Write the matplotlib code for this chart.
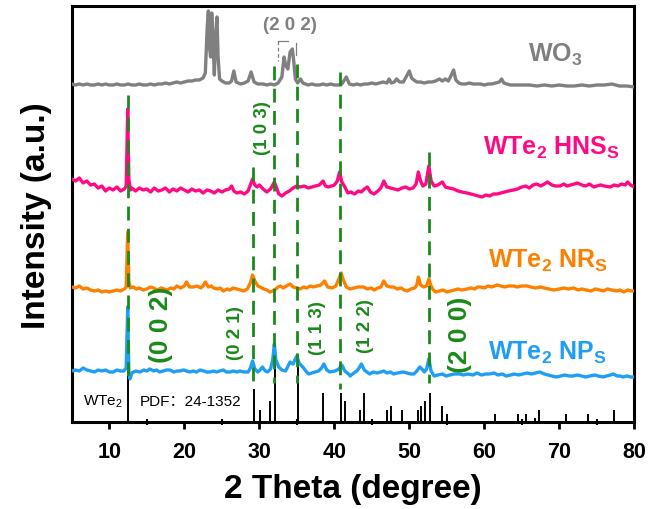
import matplotlib
matplotlib.use("Agg")
import matplotlib.pyplot as plt
import numpy as np

plt.rcParams['font.family'] = ['Liberation Sans', 'DejaVu Sans']
plt.rcParams['mathtext.fontset'] = 'custom'
plt.rcParams['mathtext.rm'] = 'Liberation Sans'
plt.rcParams['mathtext.bf'] = 'Liberation Sans:bold'
plt.rcParams['mathtext.it'] = 'Liberation Sans:italic'

# ---------------- data ----------------
wo3_x = [5.0, 5.5, 6.0, 6.5, 7.0, 7.5, 8.0, 8.5, 9.0, 9.5, 10.0, 10.5, 11.0, 11.5, 12.0, 12.5, 13.0, 13.5,
         14.0, 14.5, 15.0, 15.5, 16.0, 16.5, 17.0, 17.5, 18.0, 18.5, 19.0, 19.5, 20.0, 20.5, 21.0, 21.5, 22.0, 22.5,
         22.8, 23.05, 23.2, 23.35, 23.5, 23.65, 23.8, 24.0, 24.2, 24.35, 24.5, 24.7,
         25.0, 25.5, 26.0, 26.3, 26.6, 26.9, 27.5, 28.0, 28.5, 28.9, 29.3, 29.8, 30.5, 31.0, 31.5, 32.0, 32.5, 33.0,
         33.3, 33.5, 33.8, 34.1, 34.4, 34.6, 34.8, 35.1, 35.5, 35.8,
         36.5, 37.0, 37.5, 38.0, 38.5, 39.0, 39.5, 40.0, 40.5, 41.0, 41.6, 42.0, 42.5, 43.0, 43.5, 44.0, 44.5, 45.0,
         45.5, 46.0, 46.5, 47.0,
         47.3, 47.6, 48.0, 48.3, 48.7, 49.2, 49.7, 50.0, 50.3, 50.6, 51.0, 51.5, 52.0, 52.5, 53.0, 53.5, 54.0, 54.4,
         54.8, 55.2, 55.6, 55.9, 56.2, 56.6,
         57.0, 57.5, 58.0, 58.5, 59.0, 59.5, 60.0, 60.5, 61.0, 61.5, 62.0, 62.3, 62.6, 63.0, 63.5, 64.0,
         65.0, 66.0, 67.0, 68.0, 69.0, 70.0, 71.0, 72.0, 73.0, 74.0, 75.0, 76.0, 77.0, 78.0, 79.0, 80.0]
wo3_y = [3, 2, 3, 2, 3, 2, 2, 3, 2, 3, 2, 2, 3, 2, 2, 3, 2, 2,
         3, 2, 2, 3, 2, 3, 3, 4, 3, 4, 5, 4, 5, 6, 6, 7, 7, 9,
         14, 60, 76, 40, 30, 74, 50, 12, 55, 70, 30, 8,
         6, 4, 4, 6, 16, 5, 3, 4, 6, 15, 5, 3, 3, 2, 3, 2, 4, 10,
         30, 22, 18, 35, 38, 25, 8, 4, 8, 4,
         2, 3, 2, 2, 3, 2, 3, 2, 2, 3, 10, 3, 2, 3, 2, 3, 3, 4,
         3, 4, 5, 4,
         8, 4, 5, 8, 5, 5, 12, 16, 9, 7, 5, 5, 4, 5, 5, 6, 8, 6,
         8, 6, 12, 17, 7, 4,
         3, 3, 4, 3, 3, 3, 2, 3, 3, 4, 5, 8, 4, 3, 2, 2,
         2, 2, 1, 2, 1, 2, 1, 1, 2, 1, 2, 2, 3, 1, 1, 0]

hns_x = [5.0, 5.5, 6.0, 6.5, 7.0, 7.5, 8.0, 8.5, 9.0, 9.5, 10.0, 10.5, 11.0, 11.5, 12.0,
         12.25, 12.45, 12.6, 12.8,
         13.0, 13.5, 14.0, 14.5, 15.0, 15.5, 16.0, 16.5, 17.0, 17.5, 18.0, 18.5, 19.0, 19.5, 20.0, 20.5, 21.0,
         21.5, 22.0, 22.5, 23.0, 23.5, 24.0, 24.5, 25.0, 25.5, 26.0,
         26.3, 26.6, 27.0, 27.5, 28.0, 28.5, 28.8, 29.1, 29.4, 29.7, 30.0, 30.5, 31.0, 31.5, 32.0, 32.3, 32.6,
         33.0, 33.5, 34.0, 34.5, 35.0, 35.5, 36.0, 36.5, 37.0, 37.5, 38.0, 38.5,
         38.8, 39.2, 39.6, 40.0, 40.4, 40.7, 41.0, 41.4, 41.8, 42.2, 42.7, 43.2, 43.6, 44.0, 44.4, 44.8, 45.3,
         45.8, 46.2, 46.6, 47.0,
         47.5, 48.0, 48.5, 49.0, 49.5, 50.0, 50.5,
         50.9, 51.2, 51.5, 51.8, 52.2, 52.6, 52.9, 53.3, 53.8, 54.4, 54.8, 55.3, 55.9, 56.5, 57.0, 57.7, 58.2,
         58.7, 59.2, 59.7, 60.2, 60.7, 61.2, 61.7, 62.2, 62.7, 63.2, 63.9, 64.4, 65.0,
         65.5, 66.0, 66.5, 67.0, 67.5, 68.0, 68.4, 69.0, 69.5, 70.1, 70.6, 71.0, 71.5, 72.0, 72.4, 73.0, 73.5,
         74.0, 74.6, 75.0, 75.5, 76.0, 76.8, 77.3, 77.8, 78.3, 78.8, 79.1, 79.5, 80.0]
hns_y = [10, 8, 11, 6, 8, 4, 5, 1, 3, -2, 1, -1, 2, -2, 0,
         3, 80, 10, -1,
         1, -2, 1, -1, 0, -3, 1, -2, -1, 1, -3, 0, -2, 1, -1, -3, 0,
         -2, -1, -4, -1, -2, -4, -1, -3, -1, 0,
         3, -2, -4, -3, -5, -2, 4, 10, 4, 2, 4, 0, -3, 0, 7, 1, -5,
         -7, -4, -2, 1, 3, 2, 3, 1, 2, 3, 4, 8,
         3, 2, 3, 4, 8, 17, 7, 2, -4, -3, -5, -2, -3, 0, 2, -3, -5,
         -2, 1, 8, 2,
         1, 0, -1, 1, 2, 0, 1,
         5, 17, 8, 3, 5, 23, 8, 3, 4, 7, 2, 1, 0, -2, -3, -4, -5,
         -6, -7, -8, -6, -7, -5, -5, -4, -3, -2, -1, 0, 2,
         3, 1, 4, 5, 3, 5, 7, 4, 3, 3, 5, 3, 4, 5, 6, 4, 3,
         5, 2, 3, 4, 3, 2, 4, 3, 5, 4, 7, 4, 2]

nr_x = [5.0, 5.5, 6.0, 6.5, 7.0, 7.5, 8.0, 8.5, 9.0, 9.5, 10.0, 10.5, 11.0, 11.5, 12.0,
        12.25, 12.45, 12.6, 12.8,
        13.2, 13.6, 14.0, 14.5, 15.0, 15.5, 15.9, 16.4, 16.9, 17.3, 17.7, 18.2, 18.6, 19.0, 19.5, 20.0, 20.3,
        20.7, 21.2, 21.7,
        22.2, 22.5, 22.8, 23.2, 23.6, 23.9, 24.4, 24.8, 25.2, 25.7,
        26.1, 26.5, 27.0, 27.5, 27.9, 28.4, 28.8, 29.1, 29.4, 29.8,
        30.1, 30.6, 31.0, 31.4, 31.8, 32.2, 32.5, 32.8, 33.2, 33.6,
        34.1, 34.5, 35.0, 35.4, 35.9, 36.3, 36.8, 37.2, 37.7, 38.2,
        38.7, 39.1, 39.7, 40.2, 40.6, 40.9, 41.2, 41.6, 42.1, 42.6,
        43.2, 43.9, 44.4, 44.9, 45.3, 45.8, 46.2, 46.6, 47.0, 47.5,
        47.9, 48.4, 48.9, 49.3, 49.7, 50.2, 50.7, 51.0, 51.2, 51.5,
        51.9, 52.3, 52.6, 52.9, 53.2, 53.5, 54.0, 54.5, 55.0, 55.5,
        56.0, 56.5, 57.0, 57.7, 58.2, 58.7, 59.1, 59.5, 60.0, 60.5,
        61.0, 61.7, 62.2, 62.7, 63.3, 63.9, 64.4, 65.0, 65.7, 66.2,
        66.8, 67.5, 68.0, 68.6, 69.3, 70.0, 70.6, 71.2, 71.9, 72.5,
        73.0, 73.6, 74.2, 74.8, 75.4, 75.9, 76.4, 77.0, 77.6, 78.1,
        78.6, 79.1, 79.6, 80.0]
nr_y = [2, 1, 3, 0, 1, -1, -2, -1, -3, -2, -3, -2, -1, -2, 0,
        2, 57, 8, 1,
        2, 0, 1, -1, 0, 2, 1, -1, 1, 0, -1, 1, 0, 3, 1, 3, 7,
        2, 2, 3,
        1, 3, 7, 2, 3, 1, 0, 1, -2, 0,
        -1, 1, 0, -1, -2, 0, 6, 14, 8, 3,
        2, 0, -1, -3, -2, 0, 2, 3, 1, 3,
        5, 2, 1, 0, 2, 1, 3, 2, 3, 4,
        8, 2, 1, 3, 10, 16, 9, 2, 0, 1,
        2, 2, 0, 1, -1, 1, 2, 8, 3, 2,
        2, 0, 1, -1, -2, 0, 1, 4, 12, 4,
        2, 3, 10, 3, -1, -3, -2, -1, -3, -2,
        -1, 0, -1, 0, 1, 0, 2, 2, 1, 3,
        2, 4, 3, 2, 3, 3, 2, 3, 3, 2,
        1, 2, 1, 0, -1, 0, 1, 0, 1, -1,
        0, -1, -2, 0, -1, -2, 0, -1, -2, -1,
        -3, -1, -2, -2]

np_x = [5.0, 5.5, 6.0, 6.5, 7.0, 7.5, 8.0, 8.5, 9.0, 9.5,
        10.0, 10.5, 11.0, 11.5, 11.9, 12.25, 12.45, 12.6, 12.75, 13.0,
        13.5, 14.1, 14.6, 15.0, 15.4, 15.9, 16.3, 16.7, 17.2, 17.6,
        18.1, 18.6, 19.0, 19.4, 19.9, 20.3, 20.7, 21.2, 21.6, 22.1,
        22.6, 23.0, 23.4, 23.9, 24.3, 24.7, 25.2, 25.6, 26.1, 26.5,
        27.0, 27.4, 27.9, 28.5, 28.8, 29.1, 29.4, 29.8, 30.1, 30.4,
        30.8, 31.1, 31.5, 31.8, 32.0, 32.2, 32.6, 33.0, 33.5, 34.1,
        34.5, 34.8, 35.0, 35.3, 35.9, 36.3, 36.6, 37.0, 37.4, 37.9,
        38.3, 38.6, 39.0, 39.4, 40.1, 40.6, 41.0, 41.4, 41.9, 42.1,
        42.6, 43.0, 43.3, 43.6, 44.0, 44.7, 45.2, 45.7, 46.2, 46.6,
        47.0, 47.5, 47.9, 48.4, 49.2, 49.7, 50.2, 50.6, 51.0, 51.4,
        51.8, 52.0, 52.3, 52.6, 52.9, 53.3, 53.8, 54.4, 54.9, 55.4,
        56.0, 56.7, 57.2, 57.8, 58.5, 59.0, 59.6, 60.2, 60.7, 61.3,
        61.8, 62.4, 62.9, 63.5, 64.0, 64.6, 65.1, 65.7, 66.3, 66.8,
        67.4, 68.0, 68.5, 69.0, 69.6, 70.2, 70.7, 71.3, 71.8, 72.4,
        73.0, 73.5, 74.1, 74.7, 75.2, 75.8, 76.3, 76.8, 77.2, 77.7,
        78.1, 78.5, 79.0, 79.5, 80.0]
np_y = [3, 4, 3, 6, 4, 3, 2, 4, 3, 4,
        2, 2, 4, 3, 3, 6, 67, 2, -5, 1,
        3, 2, 4, 3, 5, 3, 4, 2, 3, 4,
        4, 2, 3, 3, 4, 3, 2, 3, 2, 4,
        3, 2, 2, 3, 2, 3, 4, 2, 2, 3,
        2, 3, 2, 2, 6, 13, 5, 2, 4, 7,
        3, 2, 5, 15, 30, 14, 7, 4, 3, 12,
        10, 15, 18, 11, 6, 2, 0, 1, 2, 3,
        6, 10, 4, 2, 3, 5, 9, 3, 0, -2,
        1, 3, 6, 10, 4, 0, 2, 1, 2, 3,
        1, 2, 0, 1, 2, 1, 0, 0, 3, 7,
        4, 2, 5, 15, 3, -2, -1, 0, -2, -1,
        0, 0, -1, 0, -1, 1, -1, 0, 0, 1,
        -1, 0, -2, -1, 0, -1, 0, 1, 0, 1,
        2, 0, -1, -2, -3, -2, -1, -2, -2, -1,
        -2, -3, -2, -1, -2, -3, -2, -1, 0, -2,
        -2, -3, -2, -3, -3]

# PDF 24-1352 reference sticks
pdf_pos = [12.5, 29.27, 30.07, 31.4, 32.1, 35.2, 38.5, 40.9, 41.4, 43.4, 43.9, 47.0, 47.5, 49.0,
           51.2, 51.5, 52.1, 52.7, 54.4, 55.0, 61.4, 64.5, 65.6, 66.7, 67.3, 70.9, 73.8, 77.3]
pdf_int = [48, 33, 12, 21, 58, 58, 29, 29, 21, 12, 29, 12, 16, 12,
           12, 16, 21, 29, 16, 8, 8, 8, 8, 4, 12, 8, 8, 12]

# WTe2 reflections marked with dashed guide lines
hkl_pos = [12.45, 29.1, 32.0, 35.0, 40.8, 52.6]

series_names = [r'WO$_\mathbf{3}$', r'WTe$_\mathbf{2}$ HNS$_\mathbf{S}$',
                r'WTe$_\mathbf{2}$ NR$_\mathbf{S}$', r'WTe$_\mathbf{2}$ NP$_\mathbf{S}$']
xticks = [10, 20, 30, 40, 50, 60, 70, 80]

# ---------------- style ----------------
offsets = [335, 233, 133, 48]
colors = ['#808080', '#FF0A85', '#FF8000', '#1E9EF5']
green = '#1A8A1A'

fig = plt.figure(figsize=(6.56, 5.10), dpi=100)
ax = fig.add_axes([0.1095, 0.1706, 0.8575, 0.8147])

traces = [(wo3_x, wo3_y), (hns_x, hns_y), (nr_x, nr_y), (np_x, np_y)]
for (xs, ys), off, c in zip(traces, offsets, colors):
    ax.plot(xs, np.array(ys) + off, color=c, lw=2.4, solid_joinstyle='round', zorder=3)

# reference sticks
ax.vlines(pdf_pos, 0, pdf_int, color='black', lw=1.4, zorder=2)

# dashed guide lines
guide_top = [327, 255, 356, 358, 350, 270]
guide_bot = [39, 39, 39, 39, 33, 39]
for xp, yt, yb in zip(hkl_pos, guide_top, guide_bot):
    ax.plot([xp, xp], [yt, yb], color=green, lw=2.0, linestyle=(0, (5.0, 3.0)), zorder=4)

# series labels
label_pos = [(65.8, 368), (59.8, 275), (60.5, 162), (60.5, 70)]
for name, (lx, ly), c in zip(series_names, label_pos, colors):
    ax.text(lx, ly, name, color=c, fontsize=18, fontweight='bold', ha='left', va='center')

# hkl labels
ax.text(16.9, 98, '(0 0 2)', color=green, fontsize=19, fontweight='bold', rotation=90, ha='center', va='center')
ax.text(56.8, 88, '(2 0 0)', color=green, fontsize=19, fontweight='bold', rotation=90, ha='center', va='center')
ax.text(26.8, 90, '(0 2 1)', color=green, fontsize=13.5, fontweight='bold', rotation=90, ha='center', va='center')
ax.text(30.4, 295, '(1 0 3)', color=green, fontsize=13.5, fontweight='bold', rotation=90, ha='center', va='center')
ax.text(37.8, 95, '(1 1 3)', color=green, fontsize=13.5, fontweight='bold', rotation=90, ha='center', va='center')
ax.text(44.2, 97, '(1 2 2)', color=green, fontsize=13.5, fontweight='bold', rotation=90, ha='center', va='center')

# (2 0 2) annotation of WO3
ax.text(34.1, 397, '(2 0 2)', color='#808080', fontsize=13.5, fontweight='bold', ha='center', va='center')
ax.plot([32.5, 33.8], [381, 381], color='#808080', lw=0.9)
ax.plot([32.5, 32.5], [381, 361], color='#808080', lw=0.9, linestyle=(0, (3, 2)))
ax.plot([34.9, 34.9], [379, 367], color='#808080', lw=0.9)

# PDF card text
ax.text(6.5, 21, r'WTe$_2$', fontsize=11, ha='left', va='center')
ax.text(14.1, 21, 'PDF：24-1352', fontsize=11, ha='left', va='center',
        family=['Liberation Sans', 'Noto Sans CJK SC', 'DejaVu Sans'])

ax.set_xlim(5, 80)
ax.set_ylim(0, 415.5)
ax.set_yticks([])
ax.set_xticks(xticks)
ax.set_xticks([15, 25, 35, 45, 55, 65, 75], minor=True)
ax.tick_params(axis='x', which='major', direction='out', length=5, width=2, pad=8.5, labelsize=15.5)
ax.tick_params(axis='x', which='minor', direction='inout', length=5, width=1.5)
for lab in ax.get_xticklabels():
    lab.set_fontweight('bold')
for s in ax.spines.values():
    s.set_linewidth(2.2)

ax.set_xlabel('2 Theta (degree)', fontsize=24, fontweight='bold', labelpad=8)
ax.set_ylabel('Intensity (a.u.)', fontsize=24, fontweight='bold', labelpad=14)

fig.savefig('out.png', dpi=100)
